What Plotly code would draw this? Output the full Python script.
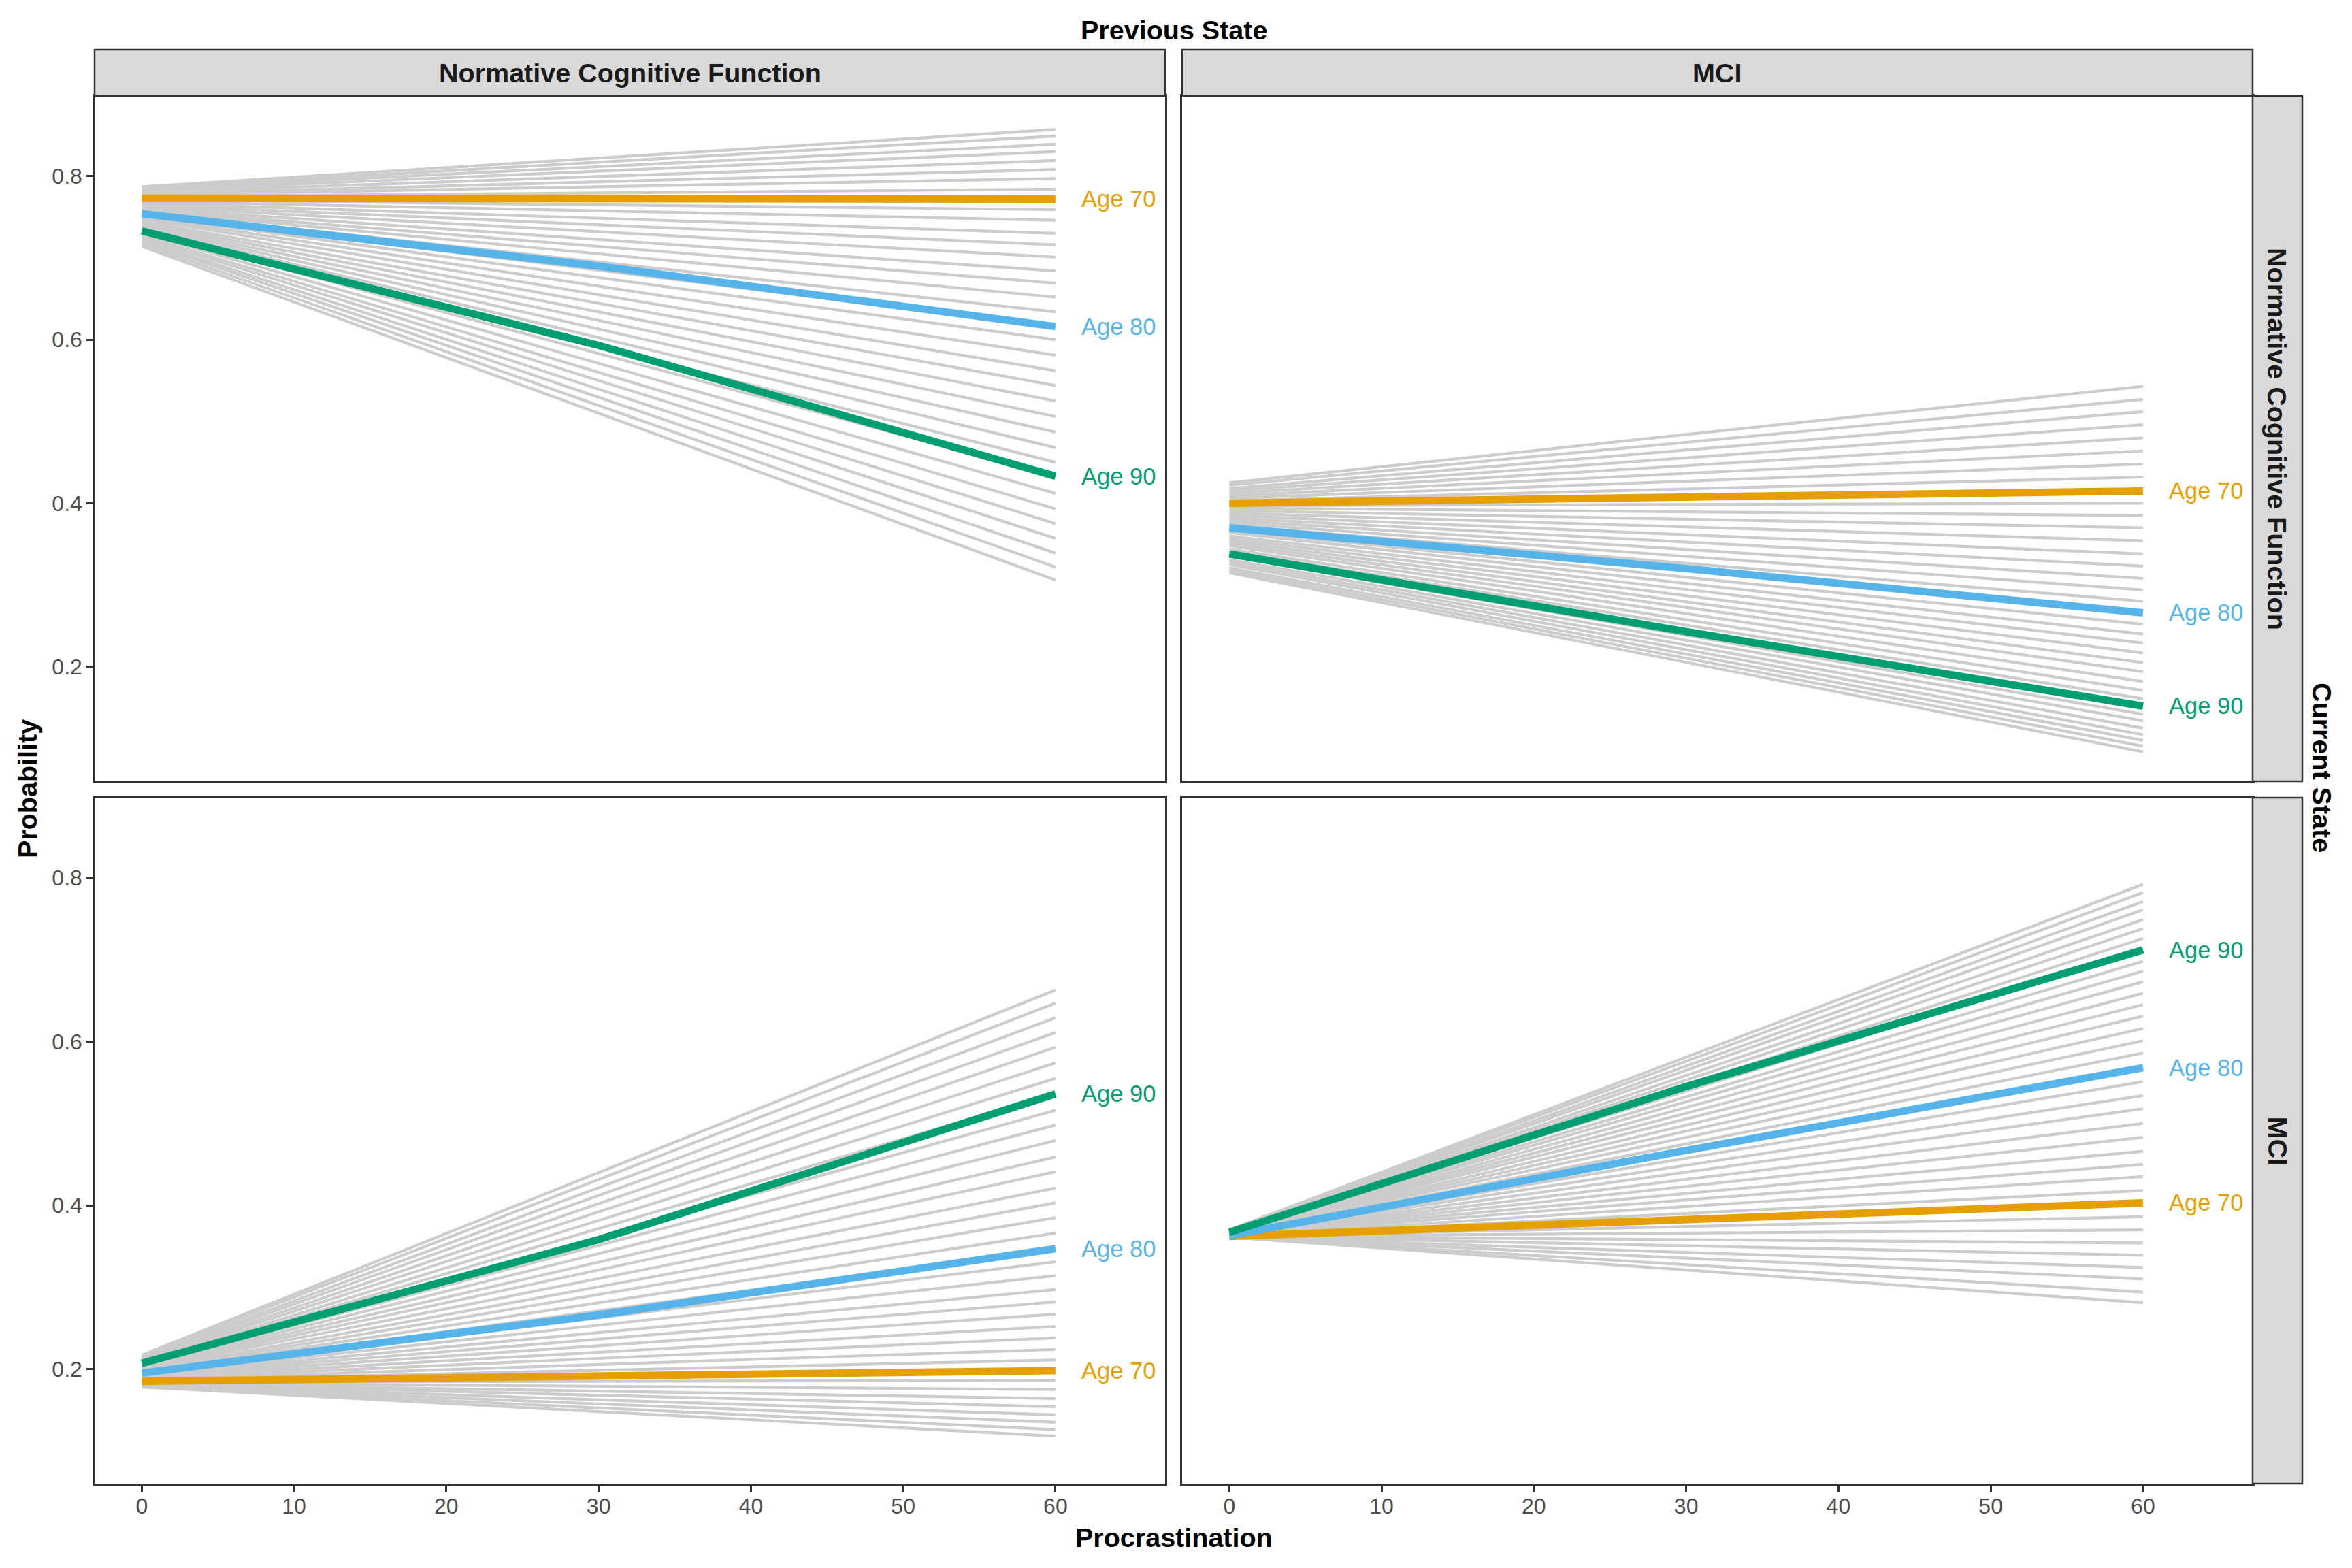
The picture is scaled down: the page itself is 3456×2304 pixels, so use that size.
import plotly.graph_objects as go

ages = list(range(62, 98))
x_ends = [0, 60]
x_highlight = [0, 30, 60]
highlight_ages = [70, 80, 90]

# previous state: Normative Cognitive Function -> current: Normative Cognitive Function
ncf_ncf_start = [0.787, 0.785, 0.784, 0.782, 0.780, 0.778, 0.777, 0.775, 0.773,
                 0.771, 0.769, 0.767, 0.765, 0.763, 0.761, 0.759, 0.758, 0.756, 0.754,
                 0.752, 0.750, 0.748, 0.745, 0.743, 0.741, 0.739, 0.737, 0.734, 0.733,
                 0.730, 0.727, 0.725, 0.722, 0.720, 0.717, 0.714]
ncf_ncf_end = [0.857, 0.849, 0.839, 0.830, 0.819, 0.808, 0.797, 0.784, 0.772,
               0.759, 0.746, 0.730, 0.716, 0.701, 0.684, 0.669, 0.652, 0.634, 0.616,
               0.600, 0.581, 0.562, 0.544, 0.525, 0.506, 0.487, 0.468, 0.450, 0.433,
               0.412, 0.393, 0.375, 0.357, 0.339, 0.322, 0.306]
ncf_ncf_age70 = [0.773, 0.772, 0.772]
ncf_ncf_age80 = [0.754, 0.690, 0.616]
ncf_ncf_age90 = [0.733, 0.593, 0.433]

# previous state: MCI -> current: Normative Cognitive Function
mci_ncf_start = [0.425, 0.422, 0.418, 0.415, 0.412, 0.409, 0.406, 0.403, 0.400,
                 0.397, 0.394, 0.391, 0.388, 0.385, 0.382, 0.379, 0.376, 0.373, 0.370,
                 0.367, 0.364, 0.360, 0.357, 0.354, 0.351, 0.348, 0.344, 0.341, 0.338,
                 0.335, 0.331, 0.328, 0.325, 0.321, 0.318, 0.315]
mci_ncf_end = [0.543, 0.527, 0.512, 0.496, 0.480, 0.464, 0.448, 0.432, 0.415,
               0.400, 0.385, 0.370, 0.354, 0.338, 0.323, 0.308, 0.294, 0.280, 0.266,
               0.252, 0.240, 0.229, 0.217, 0.205, 0.194, 0.182, 0.171, 0.161, 0.152,
               0.142, 0.134, 0.125, 0.117, 0.110, 0.103, 0.096]
mci_ncf_age70 = [0.400, 0.408, 0.415]
mci_ncf_age80 = [0.370, 0.320, 0.266]
mci_ncf_age90 = [0.338, 0.243, 0.152]

# previous state: Normative Cognitive Function -> current: MCI
ncf_mci_start = [0.178, 0.179, 0.180, 0.181, 0.182, 0.182, 0.183, 0.184, 0.185,
                 0.186, 0.187, 0.188, 0.189, 0.190, 0.191, 0.192, 0.193, 0.194, 0.195,
                 0.196, 0.197, 0.198, 0.200, 0.201, 0.202, 0.203, 0.204, 0.206, 0.207,
                 0.208, 0.210, 0.211, 0.213, 0.214, 0.216, 0.217]
ncf_mci_end = [0.118, 0.126, 0.135, 0.144, 0.154, 0.164, 0.175, 0.186, 0.198,
               0.211, 0.224, 0.238, 0.252, 0.267, 0.282, 0.297, 0.314, 0.331, 0.347,
               0.366, 0.385, 0.403, 0.421, 0.441, 0.459, 0.479, 0.498, 0.516, 0.536,
               0.555, 0.574, 0.593, 0.611, 0.629, 0.647, 0.663]
ncf_mci_age70 = [0.185, 0.191, 0.198]
ncf_mci_age80 = [0.195, 0.266, 0.347]
ncf_mci_age90 = [0.207, 0.358, 0.536]

# previous state: MCI -> current: MCI
mci_mci_start = [0.361, 0.361, 0.361, 0.361, 0.362, 0.362, 0.362, 0.362, 0.362,
                 0.362, 0.362, 0.363, 0.363, 0.363, 0.363, 0.363, 0.364, 0.364, 0.364,
                 0.364, 0.365, 0.365, 0.365, 0.366, 0.366, 0.366, 0.367, 0.367, 0.367,
                 0.368, 0.368, 0.368, 0.369, 0.369, 0.370, 0.370]
mci_mci_end = [0.281, 0.294, 0.310, 0.324, 0.339, 0.354, 0.370, 0.386, 0.403,
               0.418, 0.435, 0.450, 0.466, 0.483, 0.500, 0.518, 0.534, 0.551, 0.568,
               0.586, 0.601, 0.616, 0.631, 0.645, 0.659, 0.673, 0.686, 0.698, 0.712,
               0.726, 0.738, 0.749, 0.761, 0.771, 0.782, 0.792]
mci_mci_age70 = [0.362, 0.383, 0.403]
mci_mci_age80 = [0.363, 0.467, 0.568]
mci_mci_age90 = [0.367, 0.545, 0.712]

col_labels = ['Normative Cognitive Function', 'MCI']
row_labels = ['Normative Cognitive Function', 'MCI']

# panel order: top-left, top-right, bottom-left, bottom-right
panels = [
    (ncf_ncf_start, ncf_ncf_end, [ncf_ncf_age70, ncf_ncf_age80, ncf_ncf_age90]),
    (mci_ncf_start, mci_ncf_end, [mci_ncf_age70, mci_ncf_age80, mci_ncf_age90]),
    (ncf_mci_start, ncf_mci_end, [ncf_mci_age70, ncf_mci_age80, ncf_mci_age90]),
    (mci_mci_start, mci_mci_end, [mci_mci_age70, mci_mci_age80, mci_mci_age90]),
]

age_colors = {70: '#E69F00', 80: '#56B4E9', 90: '#009E73'}
FONT = 'Liberation Sans, Arial, sans-serif'
BORDER = '#333333'
W, H = 3456, 2304
PAGE_OFFSET = 8  # the html body margin pushes the figure right/down


def fx(px):
    return (px - PAGE_OFFSET) / W


def fy(px):
    return 1 - (px - PAGE_OFFSET) / H


x_dom = [[fx(139), fx(1712)], [fx(1737), fx(3310)]]
y_dom = [[fy(1148), fy(141)], [fy(2180), fy(1172)]]
strip_top = [fy(141), fy(73)]
strip_right = [fx(3310), fx(3383)]

fig = go.Figure()
annotations = []

for i, (start, end, hl) in enumerate(panels):
    n = '' if i == 0 else str(i + 1)
    xs, ys = [], []
    for s, e in zip(start, end):
        xs += [x_ends[0], x_ends[1], None]
        ys += [s, e, None]
    fig.add_trace(go.Scatter(x=xs, y=ys, mode='lines', xaxis='x' + n, yaxis='y' + n,
                             line=dict(color='#CCCCCC', width=4.2),
                             hoverinfo='skip', showlegend=False))
    for age, vals in zip(highlight_ages, hl):
        fig.add_trace(go.Scatter(x=x_highlight, y=vals, mode='lines',
                                 xaxis='x' + n, yaxis='y' + n,
                                 line=dict(color=age_colors[age], width=11),
                                 name='Age ' + str(age), showlegend=False))
        annotations.append(dict(x=61.6, y=vals[-1], xref='x' + n, yref='y' + n,
                                text='Age ' + str(age), showarrow=False,
                                xanchor='left', yanchor='middle',
                                font=dict(family=FONT, size=34.5, color=age_colors[age])))

layout_axes = {}
for i in range(4):
    r, c = divmod(i, 2)
    n = '' if i == 0 else str(i + 1)
    layout_axes['xaxis' + n] = dict(
        domain=x_dom[c], range=[-3.1, 67.2], anchor='y' + n,
        tickvals=[0, 10, 20, 30, 40, 50, 60],
        showticklabels=(r == 1), ticks='outside' if r == 1 else '',
        ticklen=9, tickwidth=2.5, tickcolor=BORDER, ticklabelstandoff=-6,
        tickfont=dict(family=FONT, size=32, color='#4D4D4D'),
        showline=True, mirror=True, linecolor=BORDER, linewidth=2.5,
        showgrid=False, zeroline=False)
    layout_axes['yaxis' + n] = dict(
        domain=y_dom[r], range=[0.0600, 0.898], anchor='x' + n,
        tickvals=[0.2, 0.4, 0.6, 0.8], ticktext=['0.2', '0.4', '0.6', '0.8'],
        showticklabels=(c == 0), ticks='outside' if c == 0 else '',
        ticklen=9, tickwidth=2.5, tickcolor=BORDER,
        tickfont=dict(family=FONT, size=32, color='#4D4D4D'),
        showline=True, mirror=True, linecolor=BORDER, linewidth=2.5,
        showgrid=False, zeroline=False)

shapes = []
strip_font = dict(family=FONT, size=39.5, color='#1A1A1A')
for c in range(2):
    shapes.append(dict(type='rect', xref='paper', yref='paper',
                       x0=x_dom[c][0], x1=x_dom[c][1], y0=strip_top[0], y1=strip_top[1],
                       fillcolor='#D9D9D9', line=dict(color=BORDER, width=2.5)))
    annotations.append(dict(x=sum(x_dom[c]) / 2, y=sum(strip_top) / 2,
                            xref='paper', yref='paper', showarrow=False,
                            xanchor='center', yanchor='middle',
                            text='<b>' + col_labels[c] + '</b>', font=strip_font))
for r in range(2):
    shapes.append(dict(type='rect', xref='paper', yref='paper',
                       x0=strip_right[0], x1=strip_right[1], y0=y_dom[r][0], y1=y_dom[r][1],
                       fillcolor='#D9D9D9', line=dict(color=BORDER, width=2.5)))
    annotations.append(dict(x=sum(strip_right) / 2, y=sum(y_dom[r]) / 2,
                            xref='paper', yref='paper', showarrow=False, textangle=90,
                            xanchor='center', yanchor='middle',
                            text='<b>' + row_labels[r] + '</b>', font=strip_font))

title_font = dict(family=FONT, size=39.5, color='#000000')
annotations += [
    dict(x=fx(1725), y=fy(44), text='<b>Previous State</b>', textangle=0),
    dict(x=fx(1725), y=fy(2259), text='<b>Procrastination</b>', textangle=0),
    dict(x=fx(40), y=fy(1159), text='<b>Probability</b>', textangle=-90),
    dict(x=fx(3412), y=fy(1128), text='<b>Current State</b>', textangle=90),
]
for a in annotations[-4:]:
    a.update(xref='paper', yref='paper', showarrow=False, xanchor='center',
             yanchor='middle', font=title_font)

fig.update_layout(width=W, height=H, margin=dict(l=0, r=0, t=0, b=0),
                  paper_bgcolor='white', plot_bgcolor='white',
                  shapes=shapes, annotations=annotations, showlegend=False,
                  **layout_axes)
fig.write_html('out.html')
